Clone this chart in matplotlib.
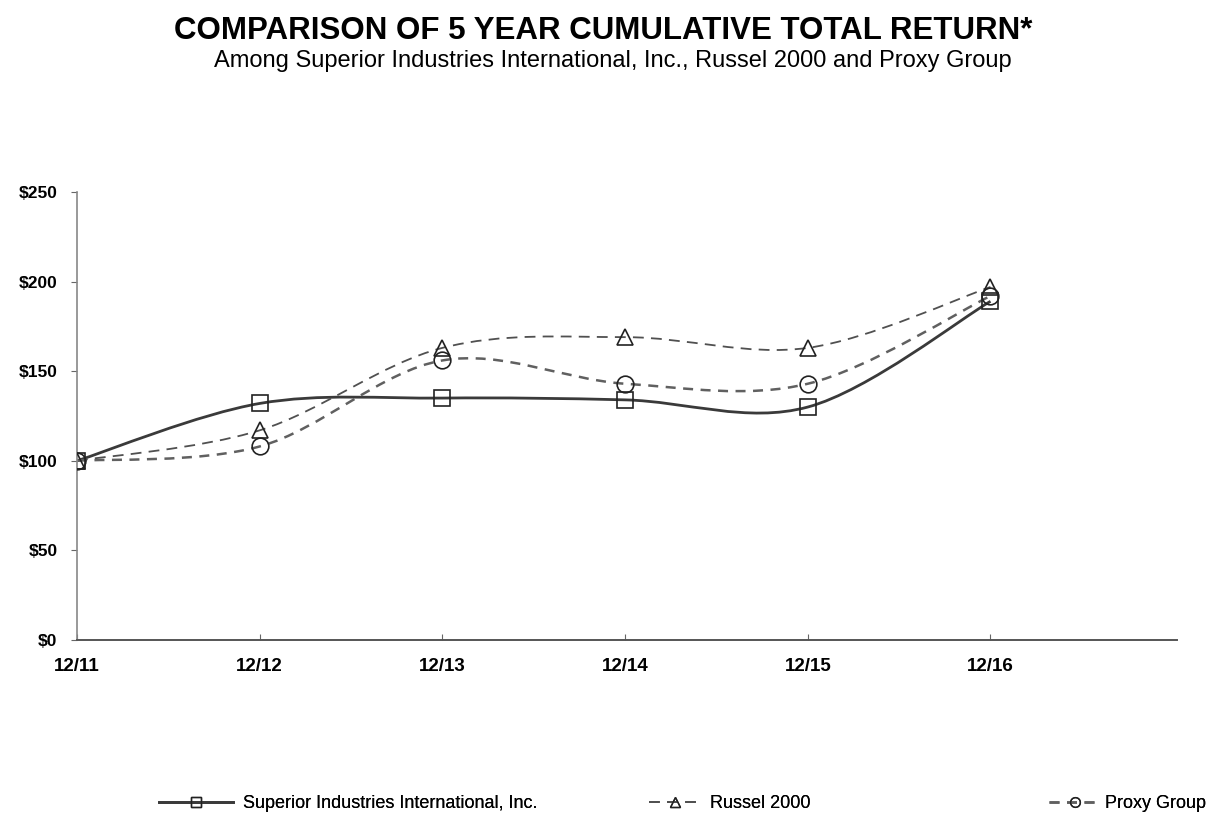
import matplotlib
matplotlib.use("Agg")
import matplotlib.pyplot as plt
from matplotlib.path import Path
from matplotlib.patches import PathPatch
from matplotlib.lines import Line2D
from matplotlib import rcParams

rcParams["font.family"] = ["Liberation Sans", "DejaVu Sans"]

# Data
periods = ["12/11", "12/12", "12/13", "12/14", "12/15", "12/16"]
superior = [100, 132, 135, 134, 130, 189]
russell = [100, 117, 163, 169, 163, 197]
proxy = [100, 108, 156, 143, 143, 192]
yticks = [0, 50, 100, 150, 200, 250]


def smooth_path(xs, ys):
    # Bezier segments like Excel's "smoothed line"
    pts = list(zip(xs, ys))
    verts = [pts[0]]
    codes = [Path.MOVETO]
    n = len(pts)
    for i in range(n - 1):
        p0 = pts[i - 1] if i > 0 else pts[i]
        p1 = pts[i]
        p2 = pts[i + 1]
        p3 = pts[i + 2] if i + 2 < n else pts[i + 1]
        c1 = (p1[0] + (p2[0] - p0[0]) / 6, p1[1] + (p2[1] - p0[1]) / 6)
        c2 = (p2[0] - (p3[0] - p1[0]) / 6, p2[1] - (p3[1] - p1[1]) / 6)
        verts += [c1, c2, p2]
        codes += [Path.CURVE4] * 3
    return Path(verts, codes)


fig = plt.figure(figsize=(12.14, 8.18), dpi=100)
ax = fig.add_axes([0.0634, 0.2176, 0.906, 0.5477])

xs = list(range(len(periods)))
series = [
    ("Superior Industries International, Inc.", superior, "s", "-", 2.0, "#3a3a3a", 11),
    ("Russel 2000", russell, "^", (0, (6, 4)), 1.3, "#505050", 12),
    ("Proxy Group", proxy, "o", (0, (4, 3)), 1.8, "#606060", 12),
]

handles = []
for label, vals, mk, ls, lw, col, ms in series:
    patch = PathPatch(smooth_path(xs, vals), facecolor="none", edgecolor=col,
                      linewidth=lw, linestyle=ls, zorder=2)
    ax.add_patch(patch)
    ax.plot(xs, vals, linestyle="none", marker=mk, markersize=ms,
            markerfacecolor="none", markeredgecolor="#222222",
            markeredgewidth=1.2, zorder=3)
    handles.append(Line2D([], [], color=col, linestyle=ls, linewidth=lw,
                          marker=mk, markersize=7, markerfacecolor="none",
                          markeredgecolor="#222222", markeredgewidth=1.0))

ax.set_xlim(0, 6.02)
ax.set_ylim(0, 250)
ax.set_xticks(xs)
ax.set_xticklabels(periods, fontweight="bold", fontsize=13.5)
ax.set_yticks(yticks)
ax.set_yticklabels([f"${v}" for v in yticks], fontweight="bold", fontsize=12.5)
ax.tick_params(axis="x", direction="in", length=4, color="#666666", pad=13)
ax.tick_params(axis="y", direction="out", length=4, color="#666666", pad=10)
for side in ["top", "right"]:
    ax.spines[side].set_visible(False)
ax.spines["left"].set_color("#888888")
ax.spines["left"].set_linewidth(1.2)
ax.spines["bottom"].set_color("#555555")
ax.spines["bottom"].set_linewidth(1.4)

fig.text(0.497, 0.962, "COMPARISON OF 5 YEAR CUMULATIVE TOTAL RETURN*",
         ha="center", va="center", fontsize=22.5, fontweight="bold")
fig.text(0.505, 0.925, "Among Superior Industries International, Inc., Russel 2000 and Proxy Group",
         ha="center", va="center", fontsize=17)

# legend entries placed one by one along the bottom
legend_x = [150, 640, 1040]
handle_len = [4.1, 2.8, 2.8]
text_pad = [0.55, 0.55, 0.3]
for (label, *_), h, lx, hl, tp in zip(series, handles, legend_x, handle_len, text_pad):
    leg = fig.legend([h], [label], loc="center left",
                     bbox_to_anchor=((lx - 7) / 1214, 1 - 804 / 818),
                     frameon=False, fontsize=13, handlelength=hl,
                     handletextpad=tp)
    fig.add_artist(leg)

fig.savefig("out.png", dpi=100)
